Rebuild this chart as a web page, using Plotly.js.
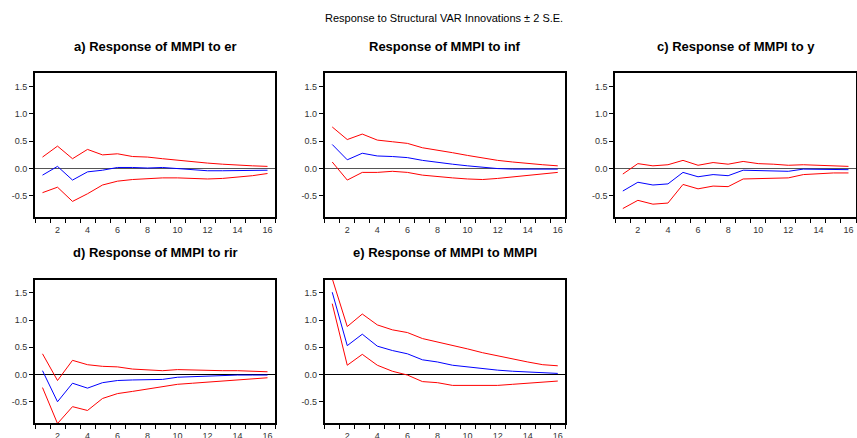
<!DOCTYPE html>
<html>
<head>
<meta charset="utf-8">
<script src="https://cdn.plot.ly/plotly-3.0.1.min.js"></script>
<style>html,body{margin:0;padding:0;background:#fff;}#chart{width:857px;height:438px;}</style>
</head>
<body>
<div id="chart"></div>
<script>
// Periods (horizon)
const periods = [1,2,3,4,5,6,7,8,9,10,11,12,13,14,15,16];
const xTickVals = [2,4,6,8,10,12,14,16];
const xTickText = ['2','4','6','8','10','12','14','16'];
const xBoundaries = [0.5,1.5,2.5,3.5,4.5,5.5,6.5,7.5,8.5,9.5,10.5,11.5,12.5,13.5,14.5,15.5,16.5];
const yTickVals = [-0.5,0.0,0.5,1.0,1.5];
const yTickText = ['-0.5','0.0','0.5','1.0','1.5'];

const mainTitle = 'Response to Structural VAR Innovations \u00b1 2 S.E.';
const panelTitles = ['a) Response of MMPI to er','Response of MMPI to inf','c) Response of MMPI to y','d) Response of MMPI to rir','e) Response of MMPI to MMPI'];

// a) response to er
const aResp  = [-0.12,0.04,-0.21,-0.06,-0.03,0.02,0.02,0.01,0.02,0.00,-0.01,-0.04,-0.04,-0.04,-0.03,-0.03];
const aUpper = [0.21,0.41,0.18,0.35,0.25,0.27,0.22,0.21,0.18,0.15,0.12,0.10,0.08,0.06,0.05,0.04];
const aLower = [-0.44,-0.34,-0.60,-0.46,-0.30,-0.23,-0.20,-0.18,-0.17,-0.17,-0.18,-0.19,-0.18,-0.16,-0.13,-0.09];
// b) response to inf
const bResp  = [0.44,0.16,0.28,0.23,0.22,0.20,0.15,0.11,0.08,0.05,0.02,0.00,-0.01,-0.01,-0.01,-0.01];
const bUpper = [0.76,0.53,0.63,0.52,0.49,0.46,0.38,0.34,0.29,0.24,0.19,0.15,0.12,0.09,0.07,0.05];
const bLower = [0.12,-0.21,-0.07,-0.07,-0.05,-0.07,-0.12,-0.15,-0.17,-0.19,-0.20,-0.18,-0.15,-0.12,-0.09,-0.07];
// c) response to y
const cResp  = [-0.41,-0.25,-0.30,-0.28,-0.07,-0.15,-0.11,-0.13,-0.03,-0.04,-0.04,-0.05,-0.01,-0.01,-0.01,-0.02];
const cUpper = [-0.10,0.09,0.05,0.07,0.15,0.06,0.11,0.08,0.13,0.09,0.08,0.06,0.07,0.06,0.05,0.04];
const cLower = [-0.73,-0.58,-0.65,-0.63,-0.29,-0.37,-0.32,-0.33,-0.19,-0.18,-0.18,-0.17,-0.11,-0.09,-0.08,-0.08];
// d) response to rir
const dResp  = [0.07,-0.50,-0.16,-0.25,-0.15,-0.11,-0.10,-0.10,-0.09,-0.05,-0.04,-0.02,-0.02,-0.01,-0.01,-0.01];
const dUpper = [0.38,-0.11,0.26,0.18,0.15,0.14,0.10,0.08,0.07,0.09,0.08,0.07,0.07,0.07,0.06,0.05];
const dLower = [-0.24,-0.90,-0.59,-0.66,-0.44,-0.35,-0.31,-0.27,-0.23,-0.18,-0.16,-0.14,-0.12,-0.10,-0.08,-0.06];
// e) response to MMPI
const eResp  = [1.51,0.53,0.74,0.52,0.44,0.38,0.27,0.23,0.17,0.14,0.10,0.08,0.06,0.05,0.04,0.02];
const eUpper = [1.76,0.88,1.11,0.91,0.82,0.77,0.66,0.60,0.54,0.47,0.40,0.34,0.28,0.23,0.18,0.16];
const eLower = [1.30,0.17,0.37,0.17,0.06,-0.01,-0.13,-0.15,-0.20,-0.20,-0.21,-0.20,-0.18,-0.16,-0.14,-0.12];

const panels = [
  {resp:aResp, up:aUpper, lo:aLower, zc:'#555555'},
  {resp:bResp, up:bUpper, lo:bLower, zc:'#555555'},
  {resp:cResp, up:cUpper, lo:cLower, zc:'#555555'},
  {resp:dResp, up:dUpper, lo:dLower, zc:'#000000'},
  {resp:eResp, up:eUpper, lo:eLower, zc:'#000000'}
];

const W = 857, H = 438;
const colPx = [[35,275],[324.7,565.3],[615.3,856]];
const rowPx = [[73.3,217.3],[279.7,423]];
const titleY = [46,252];

const data = [];
const layout = {
  width: W, height: H,
  margin: {l:0, r:0, t:0, b:0},
  paper_bgcolor: '#ffffff', plot_bgcolor: '#ffffff',
  showlegend: false,
  font: {family: 'Arial, "Liberation Sans", sans-serif', color: '#333333', size: 9},
  annotations: [{
    text: mainTitle, xref:'paper', yref:'paper', x: 444/W, y: 1 - 18/H,
    xanchor:'center', yanchor:'middle', showarrow:false,
    font:{size:11, color:'#000000', family:'Arial, "Liberation Sans", sans-serif'}
  }]
};

panels.forEach((p, i) => {
  const n = i + 1;
  const sfx = n === 1 ? '' : String(n);
  const col = i % 3, row = Math.floor(i / 3);
  const xa = 'x' + sfx, ya = 'y' + sfx;
  const lineStyle = (c) => ({color:c, width:1});
  data.push({x: periods, y: p.up, xaxis: xa, yaxis: ya, mode:'lines', line: lineStyle('#ff0000'), hoverinfo:'skip'});
  data.push({x: periods, y: p.lo, xaxis: xa, yaxis: ya, mode:'lines', line: lineStyle('#ff0000'), hoverinfo:'skip'});
  data.push({x: periods, y: p.resp, xaxis: xa, yaxis: ya, mode:'lines', line: lineStyle('#0000ff'), hoverinfo:'skip'});

  layout['xaxis' + sfx] = {
    domain: [colPx[col][0] / W, colPx[col][1] / W],
    anchor: ya, range: [0.5, 16.5], fixedrange: true,
    showgrid: false, zeroline: false,
    showline: true, mirror: true, linecolor: '#000000', linewidth: 2,
    tickmode: 'array', tickvals: xTickVals, ticktext: xTickText, ticks: '',
    ticklabelstandoff: 3,
    tickfont: {size: 9, color: '#333333'},
    minor: {tickmode: 'array', tickvals: xBoundaries, ticks: 'outside', ticklen: 4, tickwidth: 1, tickcolor: '#000000', showgrid: false}
  };
  layout['yaxis' + sfx] = {
    domain: [1 - rowPx[row][1] / H, 1 - rowPx[row][0] / H],
    anchor: xa, range: [-0.89, 1.74], fixedrange: true,
    showgrid: false, zeroline: true, zerolinecolor: p.zc, zerolinewidth: 1,
    showline: true, mirror: true, linecolor: '#000000', linewidth: 2,
    tickmode: 'array', tickvals: yTickVals, ticktext: yTickText,
    ticks: 'outside', ticklen: 4, tickwidth: 1, tickcolor: '#000000',
    tickfont: {size: 9, color: '#333333'}
  };
  layout.annotations.push({
    text: '<b>' + panelTitles[i] + '</b>', xref:'paper', yref:'paper',
    x: (colPx[col][0] + colPx[col][1]) / 2 / W, y: 1 - titleY[row] / H,
    xanchor:'center', yanchor:'middle', showarrow:false,
    font:{size:13, color:'#000000', family:'Arial, "Liberation Sans", sans-serif'}
  });
});

Plotly.newPlot('chart', data, layout, {displayModeBar:false, staticPlot:true});
</script>
</body>
</html>
